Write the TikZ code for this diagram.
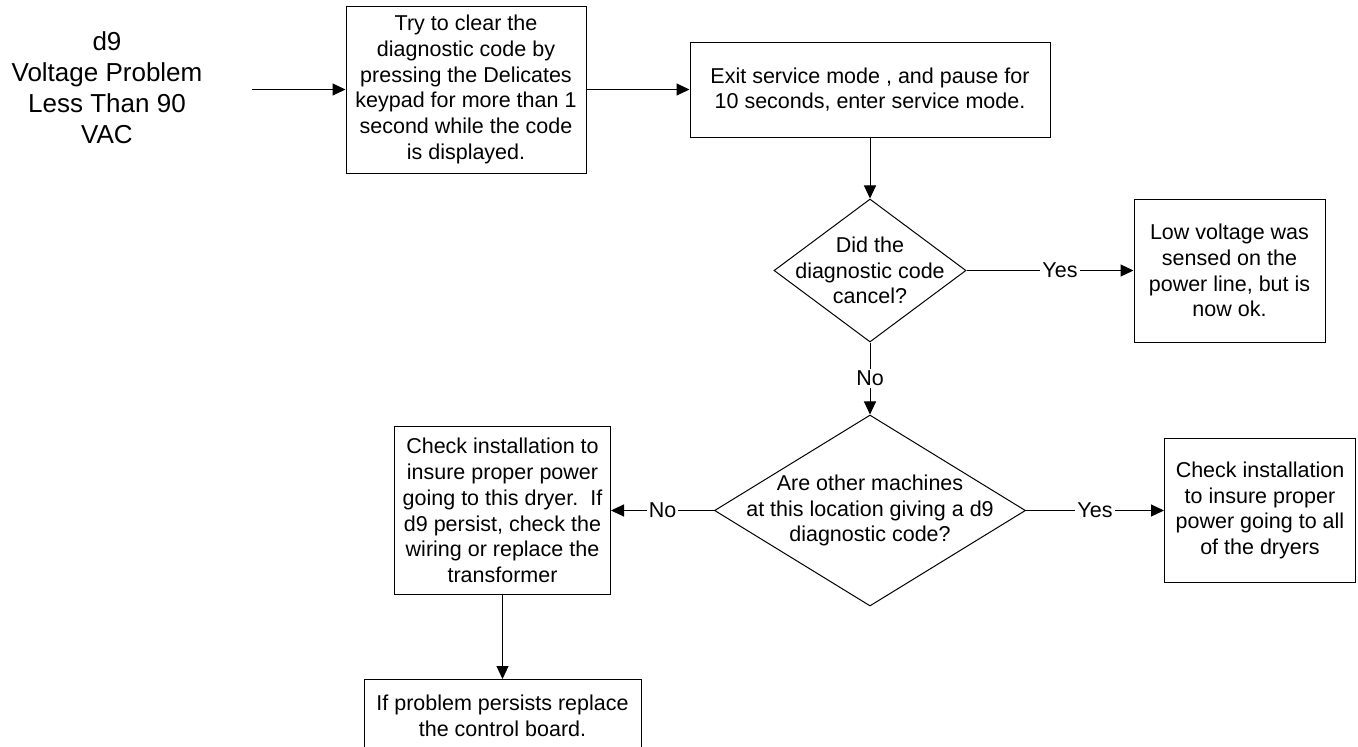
\documentclass[tikz,border=0pt]{standalone}
\usepackage{fontspec}
\setmainfont{Liberation Sans}
\usetikzlibrary{positioning, arrows.meta, shapes.geometric}

\begin{document}
\begin{tikzpicture}[
    x=1pt, y=-1pt,
    every node/.style={
        font=\fontsize{21.5pt}{25.8pt}\selectfont
    },
    box/.style={
        draw,
        line width=1pt,
        align=center,
        inner sep=0pt
    },
    decision/.style={
        draw,
        diamond,
        line width=1pt,
        align=center,
        inner xsep=-60pt,
        inner ysep=-30pt
    },
    arrow/.style={
        -{Triangle[length=13pt, width=12pt]},
        line width=1pt
    },
    answer/.style={
        fill=white,
        inner sep=2pt
    }
]

\useasboundingbox (0,0) rectangle (1358,747);

\node[align=center, font=\fontsize{26pt}{31pt}\selectfont] (start) at (107,88) {d9\\Voltage Problem\\Less Than 90\\VAC};
\node[box, minimum width=240pt, minimum height=167pt] (clear) at (466,89.5) {Try to clear the\\diagnostic code by\\pressing the Delicates\\keypad for more than 1\\second while the code\\is displayed.};
\coordinate[left=94pt of clear] (feed);
\node[box, minimum width=360pt, minimum height=95pt, right=103pt of clear] (restart) {Exit service mode , and pause for\\10 seconds, enter service mode.};
\node[decision, minimum width=192pt, minimum height=143pt, below=61pt of restart] (cancel) {Did the\\diagnostic code\\cancel?};
\node[box, minimum width=191pt, minimum height=143pt, right=167pt of cancel] (sensed) {Low voltage was\\sensed on the\\power line, but is\\now ok.};
\node[decision, minimum width=311pt, minimum height=191pt, below=72pt of cancel] (others) {Are other machines\\at this location giving a d9\\diagnostic code?};
\node[box, minimum width=191pt, minimum height=144pt, right=138pt of others] (alldryers) {Check installation\\to insure proper\\power going to all\\of the dryers};
\node[box, minimum width=216pt, minimum height=168pt, left=103pt of others] (thisdryer) {Check installation to\\insure proper power\\going to this dryer.\ \ If\\d9 persist, check the\\wiring or replace the\\transformer};
\node[box, minimum width=277pt, minimum height=72pt, below=84pt of thisdryer] (board) {If problem persists replace\\the control board.};

\draw[arrow] (feed) -- (clear);
\draw[arrow] (clear) -- (restart);
\draw[arrow] (restart) -- (cancel);
\draw[arrow] (cancel) -- node[answer, pos=0.56] (yes1) {Yes} (sensed);
\draw[arrow] (cancel) -- node[answer] (no1) {No} (others);
\draw[arrow] (others) -- node[answer] (no2) {No} (thisdryer);
\draw[arrow] (others) -- node[answer] (yes2) {Yes} (alldryers);
\draw[arrow] (thisdryer) -- (board);

\end{tikzpicture}
\end{document}
